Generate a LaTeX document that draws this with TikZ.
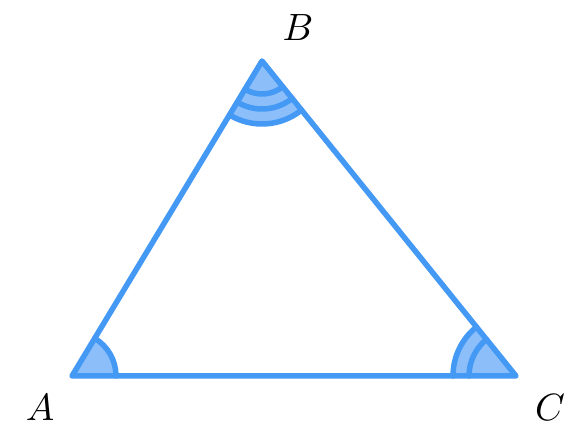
\documentclass[tikz,border=0pt]{standalone}
\usepackage{graphicx}
\usepackage{tikz}
\definecolor{edgec}{RGB}{68,153,245}
\definecolor{fillc}{RGB}{140,191,250}
\begin{document}
\begin{tikzpicture}[x=1pt,y=1pt,
  edge/.style={draw=edgec,line width=5.5pt,line join=round,line cap=round},
  sector/.style={fill=fillc},
  lbl/.style={inner sep=0pt}]
\useasboundingbox (0,0) rectangle (579,430);
\coordinate (A) at (72,54);
\coordinate (B) at (262,369);
\coordinate (C) at (516,54);
% sectors
\fill[sector] (A) -- ++(0:44) arc[start angle=0,end angle=58.9,radius=44] -- cycle;
\fill[sector] (B) -- ++(238.9:63) arc[start angle=238.9,end angle=308.9,radius=63] -- cycle;
\fill[sector] (C) -- ++(128.9:63) arc[start angle=128.9,end angle=180,radius=63] -- cycle;
% arcs
\draw[edge] (A) ++(0:44) arc[start angle=0,end angle=58.9,radius=44];
\foreach \r in {33,48,63}{
  \draw[edge] (B) ++(238.9:\r) arc[start angle=238.9,end angle=308.9,radius=\r];
}
\foreach \r in {47,63}{
  \draw[edge] (C) ++(128.9:\r) arc[start angle=128.9,end angle=180,radius=\r];
}
% triangle
\draw[edge] (A) -- (B) -- (C) -- cycle;
% labels
\node[lbl] (la) at (40,22) {\scalebox{3.8}{$A$}};
\node[lbl] (lb) at (298,402) {\scalebox{3.8}{$B$}};
\node[lbl] (lc) at (550,22) {\scalebox{3.8}{$C$}};
\end{tikzpicture}
\end{document}
